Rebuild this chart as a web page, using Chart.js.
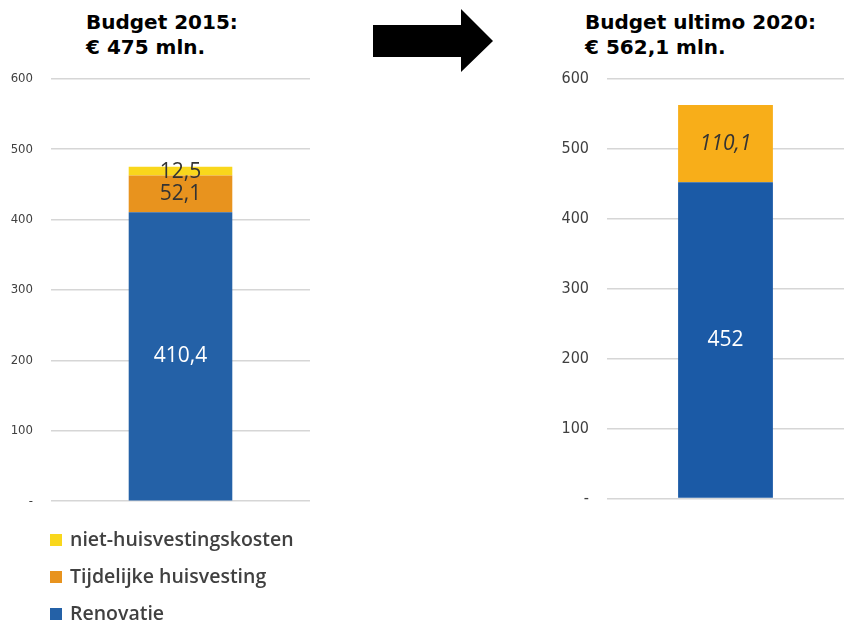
<!DOCTYPE html>
<html>
<head>
<meta charset="utf-8">
<script src="https://cdn.jsdelivr.net/npm/chart.js@4/dist/chart.umd.min.js"></script>
<style>
  body { margin: 0; background: #fff; }
  #wrap { position: relative; width: 844px; height: 622px; overflow: hidden; }
  .title { position: absolute; font-family: "DejaVu Sans", Verdana, sans-serif; font-weight: bold;
           font-size: 20px; line-height: 25px; color: #000; white-space: nowrap; }
  .box { position: absolute; }
  #legend { position: absolute; left: 50px; top: 524px; font-family: "Open Sans", sans-serif;
            font-weight: 600; font-size: 19.5px; color: #404040; }
  #legend div { height: 37px; line-height: 30px; white-space: nowrap; }
  #legend span { display: inline-block; width: 12px; height: 12px; margin-right: 8px; vertical-align: 0px; }
</style>
</head>
<body>
<div id="wrap">
  <div class="title" style="left:86px; top:10px;">Budget 2015:<br>€ 475 mln.</div>
  <div class="title" style="left:585px; top:10px;">Budget ultimo 2020:<br>€ 562,1 mln.</div>
  <svg style="position:absolute; left:0; top:0;" width="844" height="90">
    <polygon points="373,25 461,25 461,9 493,41 461,72 461,57 373,57" fill="#000"/>
  </svg>
  <div class="box" style="left:0px; top:53px; width:320px; height:474px;"><canvas id="budget2015"></canvas></div>
  <div class="box" style="left:556px; top:51px; width:288px; height:475px;"><canvas id="budget2020"></canvas></div>
  <div id="legend"></div>
</div>
<script>
var yTicks = ['-', '100', '200', '300', '400', '500', '600'];

var labels2015 = ['niet-huisvestingskosten', 'Tijdelijke huisvesting', 'Renovatie'];
var values2015 = [12.5, 52.1, 410.4];
var colors2015 = ['#F9D71C', '#E8931E', '#2461A7'];
var text2015 = ['#333333', '#333333', '#ffffff'];

var labels2020 = ['Overig', 'Renovatie'];
var values2020 = [110.1, 452];
var colors2020 = ['#F8AE19', '#1B5AA6'];
var text2020 = ['#333333', '#ffffff'];

var valueLabels = {
    id: 'valueLabels',
    afterDatasetsDraw: function(chart, args, opts) {
        var ctx = chart.ctx;
        ctx.save();
        chart.data.datasets.forEach(function(ds, i) {
            var bar = chart.getDatasetMeta(i).data[0];
            var y = (bar.y + bar.base) / 2;
            if (opts.nudge && opts.nudge[ds.label]) y += opts.nudge[ds.label];
            ctx.font = (opts.italic === ds.label ? 'italic ' : '') + '21px "Open Sans", sans-serif';
            ctx.fillStyle = ds.textColor;
            ctx.textAlign = 'center';
            ctx.textBaseline = 'middle';
            ctx.fillText(ds.data[0].toString().replace('.', ','), bar.x, y);
        });
        ctx.restore();
    }
};

function budget(id, names, values, colors, textColors, tickSize, rightPad, opts){
    var el = document.getElementById(id).getContext('2d');
    var datasets = [];
    // bottom segment first so the stack builds upward
    for (var i = names.length - 1; i >= 0; i--) {
        datasets.push({
            label: names[i],
            data: [values[i]],
            backgroundColor: colors[i],
            textColor: textColors[i],
            borderWidth: 0,
            categoryPercentage: 1,
            barPercentage: 0.4
        });
    }
    new Chart(el, {
        type: 'bar',
        data: { labels: [''], datasets: datasets },
        plugins: [valueLabels],
        options: {
            responsive: true,
            maintainAspectRatio: false,
            animation: false,
            layout: { padding: { top: 10, bottom: 10, right: rightPad, left: 0 } },
            plugins: {
                legend: { display: false },
                tooltip: { enabled: false },
                valueLabels: opts
            },
            scales: {
                x: { stacked: true, display: false },
                y: {
                    stacked: true,
                    min: 0,
                    max: 600,
                    afterFit: function(s) { s.width = 51; },
                    border: { display: false },
                    grid: { color: '#d6d6d6', lineWidth: 1.5, drawTicks: false },
                    ticks: {
                        stepSize: 100,
                        padding: 18,
                        color: '#404040',
                        font: { family: 'DejaVu Sans Condensed', size: tickSize },
                        callback: function(v, idx) { return yTicks[idx]; }
                    }
                }
            }
        }
    });
}

budget('budget2015', labels2015, values2015, colors2015, text2015, 13, 10, { nudge: { 'niet-huisvestingskosten': 1 } });
budget('budget2020', labels2020, values2020, colors2020, text2020, 16, 0, { italic: 'Overig' });

var legend = document.getElementById('legend');
for (var i = 0; i < labels2015.length; i++) {
    var row = document.createElement('div');
    row.innerHTML = '<span style="background:' + colors2015[i] + '"></span>' + labels2015[i];
    legend.appendChild(row);
}
</script>
</body>
</html>
